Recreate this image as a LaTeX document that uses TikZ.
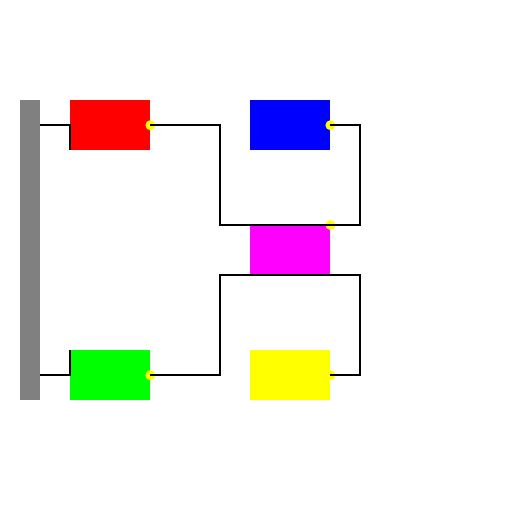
\documentclass[tikz,border=0pt]{standalone}
\definecolor{cred}{RGB}{255,0,0}
\definecolor{cblue}{RGB}{0,0,255}
\definecolor{cmag}{RGB}{255,0,255}
\definecolor{cgrn}{RGB}{0,255,0}
\definecolor{cyel}{RGB}{255,255,0}
\definecolor{cgray}{RGB}{128,128,128}
\begin{document}
\begin{tikzpicture}[x=1pt,y=-1pt,
  box/.style={draw=none,inner sep=0pt,minimum width=80pt,minimum height=50pt,anchor=north west},
  wire/.style={draw=black,line width=2pt},
  dot/.style={fill=cyel,draw=none}]
\fill[white] (0,0) rectangle (512,512);
\useasboundingbox (0,0) rectangle (512,512);
\node[fill=cgray,inner sep=0pt,minimum width=20pt,minimum height=300pt,anchor=north west] (bar) at (20,100) {};
\node[box,fill=cred] (red) at (70,100) {};
\node[box,fill=cblue] (blue) at (250,100) {};
\node[box,fill=cmag] (mag) at (250,225) {};
\node[box,fill=cgrn] (grn) at (70,350) {};
\node[box,fill=cyel] (yel) at (250,350) {};
\foreach \p in {red.east,blue.east,mag.north east,grn.east,yel.east}
  \fill[dot] (\p) circle (5pt);
\coordinate (lx) at (220,0);
\coordinate (rx) at (360,0);
\draw[wire] (bar.east|-red.west) -- (red.west) -- (red.south west);
\draw[wire] (bar.east|-grn.west) -- (grn.west) -- (grn.north west);
\draw[wire] (red.east) -- (red.east-|lx) -- (mag.north-|lx) -- (mag.north-|rx) -- (blue.east-|rx) -- (blue.east);
\draw[wire] (grn.east) -- (grn.east-|lx) -- (mag.south-|lx) -- (mag.south-|rx) -- (yel.east-|rx) -- (yel.east);
\end{tikzpicture}
\end{document}
